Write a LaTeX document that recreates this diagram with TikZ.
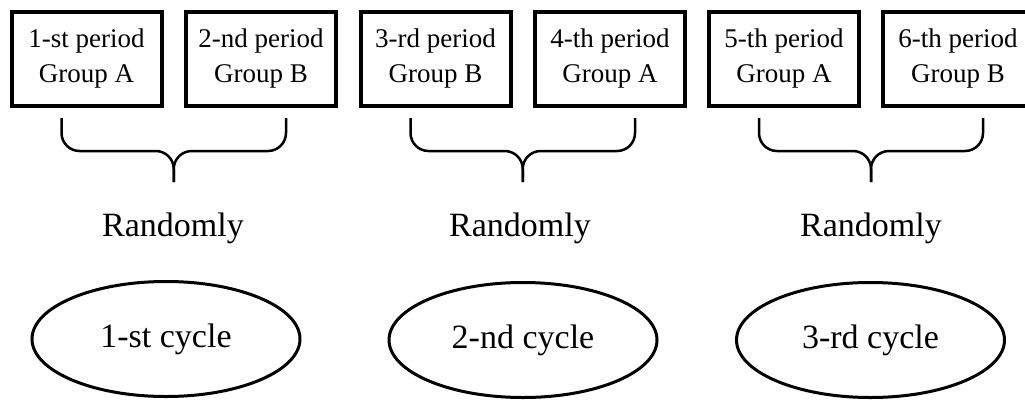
\documentclass[tikz,border=0pt]{standalone}
\usepackage{fontspec}
\setmainfont{Liberation Serif}
\usetikzlibrary{shapes.geometric,calc}

\begin{document}
\begin{tikzpicture}[x=1pt, y=-1pt,
    period/.style = {draw, rectangle, line width=4pt, minimum width=150pt, minimum height=94pt, align=center, font=\fontsize{27}{35}\selectfont},
    cycle/.style = {draw, ellipse, line width=3pt, minimum width=268pt, minimum height=115pt, inner sep=0pt, font=\fontsize{34}{40}\selectfont},
    rand/.style = {anchor=base, font=\fontsize{34}{40}\selectfont},
    brace/.style = {line width=2.5pt, rounded corners=18pt}]

	\clip (0,0) rectangle (1025,402);

	\node[period] (p1) at (86.5,59) {1-st period\\Group A};
	\node[period] (p2) at (261,59) {2-nd period\\Group B};
	\node[period] (p3) at (435.5,59) {3-rd period\\Group B};
	\node[period] (p4) at (610,59) {4-th period\\Group A};
	\node[period] (p5) at (784,59) {5-th period\\Group A};
	\node[period] (p6) at (958,59) {6-th period\\Group B};

	\node[rand] (r1) at (173,236) {Randomly};
	\node[rand] (r2) at (520,236) {Randomly};
	\node[rand] (r3) at (871,236) {Randomly};

	\node[cycle] (c1) at (166,339) {1-st cycle};
	\node[cycle] (c2) at (523,340) {2-nd cycle};
	\node[cycle] (c3) at (870.5,340) {3-rd cycle};

	% brace tips
	\coordinate (k1) at ($(p1.south)!0.5!(p2.south)+(0,74)$);
	\coordinate (k2) at ($(p3.south)!0.5!(p4.south)+(0,74)$);
	\coordinate (k3) at ($(p5.south)!0.5!(p6.south)+(0,74)$);

	\draw[brace] ([xshift=-25pt,yshift=-10pt]p1.south) |- ($(k1)+(0,-31)$) -- (k1);
	\draw[brace] ([xshift=25pt,yshift=-10pt]p2.south) |- ($(k1)+(0,-31)$) -- (k1);
	\draw[brace] ([xshift=-25pt,yshift=-10pt]p3.south) |- ($(k2)+(0,-31)$) -- (k2);
	\draw[brace] ([xshift=25pt,yshift=-10pt]p4.south) |- ($(k2)+(0,-31)$) -- (k2);
	\draw[brace] ([xshift=-25pt,yshift=-10pt]p5.south) |- ($(k3)+(0,-31)$) -- (k3);
	\draw[brace] ([xshift=25pt,yshift=-10pt]p6.south) |- ($(k3)+(0,-31)$) -- (k3);
\end{tikzpicture}
\end{document}
